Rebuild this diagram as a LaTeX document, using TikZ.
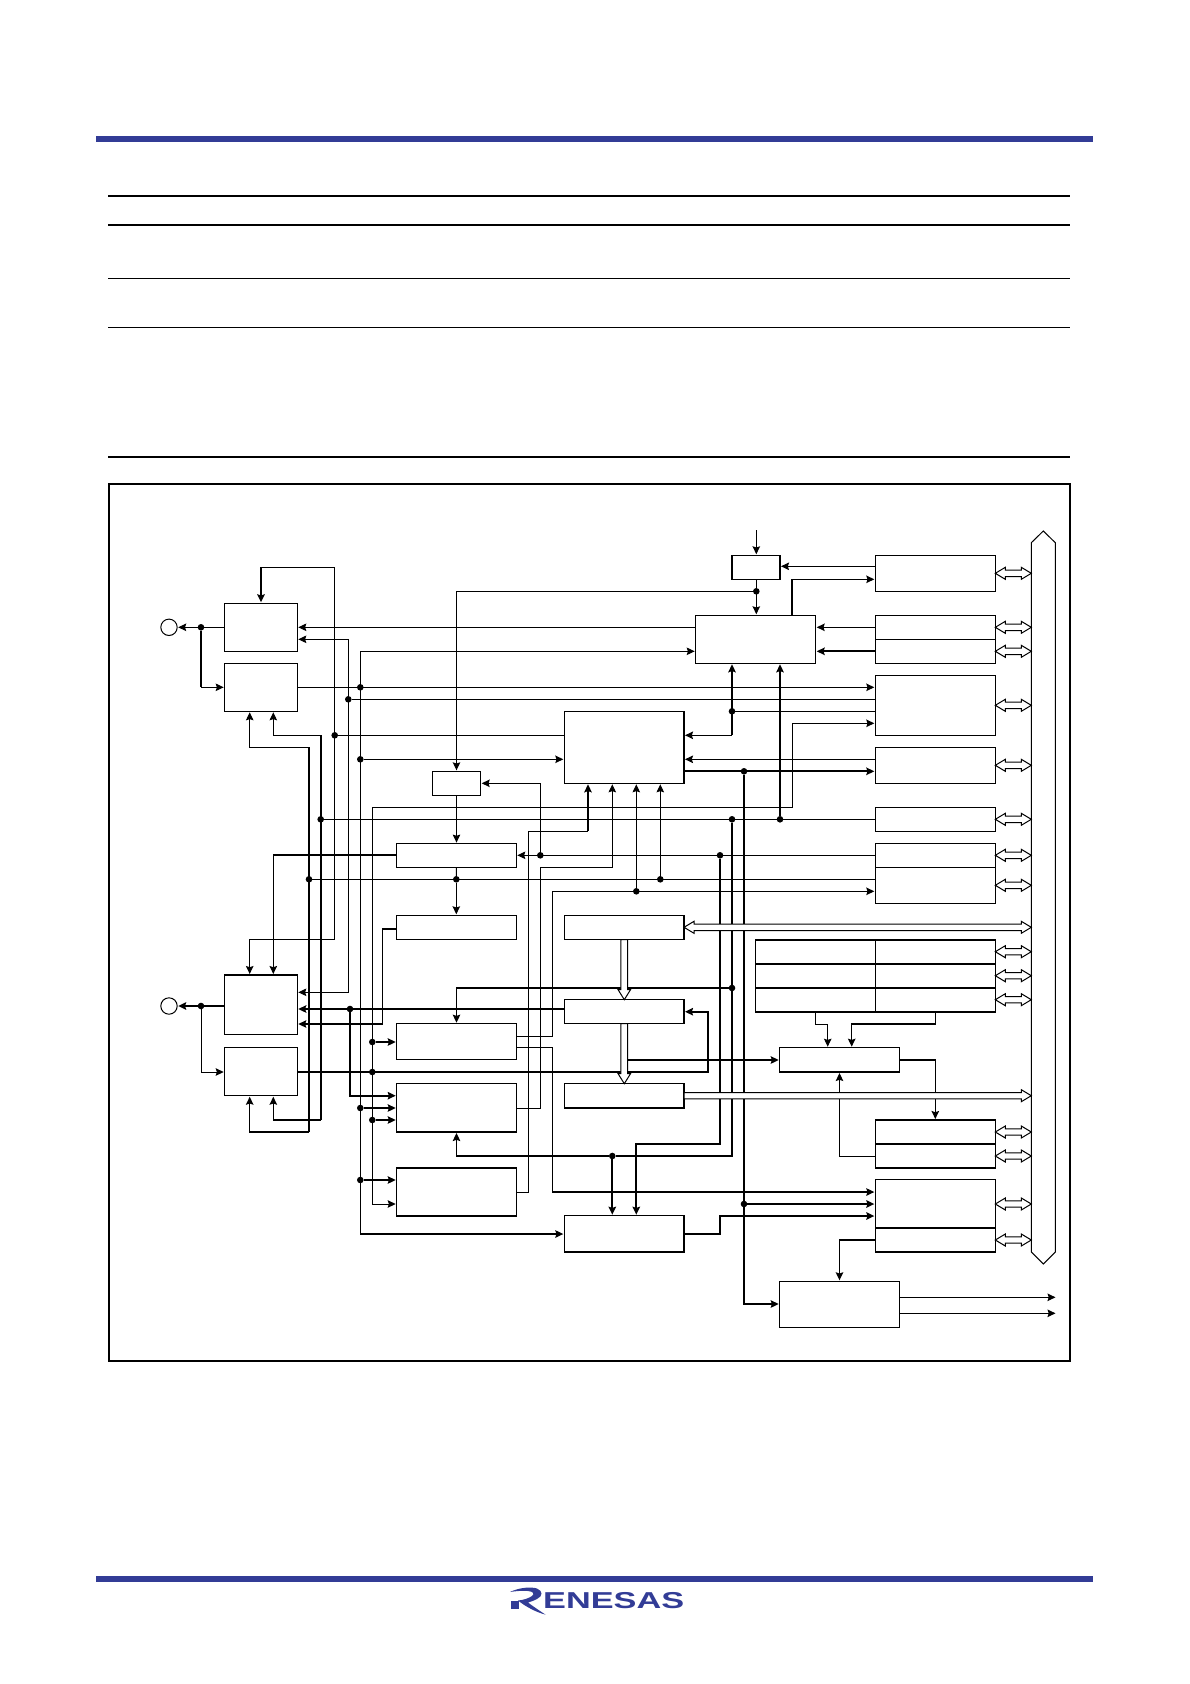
\documentclass[tikz,border=0pt]{standalone}
\usepackage{fontspec}
\usepackage{graphicx}
\setmainfont{Liberation Sans}
\usetikzlibrary{arrows.meta,calc}
\definecolor{renesas}{RGB}{50,60,150}
\tikzset{
  bx/.style={draw=black,fill=white,line width=1.15pt,inner sep=0pt,outer sep=0pt},
  bxt/.style={bx,line width=1.45pt},
  jdot/.style={circle,fill=black,draw=none,inner sep=0pt,minimum size=6.6pt,outer sep=0pt},
  ln/.style={line width=1pt,line join=miter},
  lnm/.style={line width=1.3pt},
  lnb/.style={line width=1.8pt},
  arr/.style={-{Stealth[length=8pt,width=7.5pt,inset=1.2pt]},shorten >=1pt},
  arrboth/.style={{Stealth[length=8pt,width=7.5pt,inset=1.2pt]}-{Stealth[length=8pt,width=7.5pt,inset=1.2pt]},shorten >=1pt,shorten <=1pt},
  hol/.style={draw=black,fill=white,line width=1pt,line join=miter},
}
\newcommand\Bx[6][bx]{\node[#1,minimum width={(#5-#3)*1pt},minimum height={(#6-#4)*1pt}] (#2) at ({(#3+#5)/2},{(#4+#6)/2}) {};}
\newcommand\Jd[3]{\node[jdot] (#1) at (#2,#3) {};}
\newcommand\HDbl[3]{\draw[hol] (#1 |- 0,#3) -- ++(10,-6) -- ++(0,2.8) -- ($(#2 |- 0,#3)+(-10,-3.2)$) -- ++(0,-2.8) -- (#2 |- 0,#3) -- ++(-10,6) -- ++(0,-2.8) -- ($(#1 |- 0,#3)+(10,3.2)$) -- ++(0,2.8) -- cycle;}
\newcommand\HRight[3]{\draw[hol] ($(#1 |- 0,#3)+(0,-3.2)$) -- ($(#2 |- 0,#3)+(-10,-3.2)$) -- ++(0,-2.8) -- (#2 |- 0,#3) -- ++(-10,6) -- ++(0,-2.8) -- ($(#1 |- 0,#3)+(0,3.2)$) -- cycle;}
\newcommand\HDown[3]{\draw[hol] ($(#3,0 |- #1)+(-3.4,0)$) -- ($(#3,0 |- #2)+(-3.4,-10)$) -- ++(-2.8,0) -- (#3,0 |- #2) -- ++(6.2,-10) -- ++(-2.8,0) -- ($(#3,0 |- #1)+(3.4,0)$) -- cycle;}
\begin{document}
\begin{tikzpicture}[x=1pt,y=-1pt]
\useasboundingbox (0,0) rectangle (1190,1684);
% page furniture
\fill[renesas] (96.3,136.3) rectangle (1093,142.3);
\fill[renesas] (96.3,1576) rectangle (1093,1582);
\draw[line width=1.8pt] (108,196.2) -- (1070,196.2);
\draw[line width=1.8pt] (108,225.2) -- (1070,225.2);
\draw[line width=1.1pt] (108,278.6) -- (1070,278.6);
\draw[line width=1.1pt] (108,327.6) -- (1070,327.6);
\draw[line width=1.8pt] (108,456.7) -- (1070,456.7);
\node[draw=black,line width=1.8pt,fill=white,minimum width=961pt,minimum height=876.7pt,inner sep=0pt,outer sep=0pt] (frame) at (589.5,922.4) {};
% logo
\fill[renesas] (511,1601) rectangle (519,1609);
\fill[renesas] (510,1592) .. controls (519,1587.5) and (531,1586.5) .. (537,1588.5) .. controls (543,1591) and (543,1596) .. (537,1599) .. controls (533,1601) and (530,1602) .. (528,1602.5) .. controls (534,1607) and (540,1611) .. (545.5,1614.6) .. controls (537,1612.5) and (526,1607) .. (518,1600.5) .. controls (524,1600) and (529,1598) .. (532,1596) .. controls (535,1593.5) and (533,1591.5) .. (528,1591) .. controls (522,1590.5) and (516,1591) .. (510,1592) -- cycle;
\node[anchor=west,inner sep=0pt,text=renesas] (logotext) at (543,1601) {\scalebox{1.49}[1]{\fontsize{23}{23}\selectfont\bfseries ENESAS}};
% bus
\draw[hol] (1031.3,542.7) -- (1043.3,531) -- (1055.3,542.7) -- (1055.3,1252) -- (1043.3,1264) -- (1031.3,1252) -- cycle;
\coordinate (BusL) at (1031.3,890);
% boxes
\Bx[bxt]{A}{224.7}{603.3}{297.3}{651.3}
\Bx[bxt]{B}{224.7}{663.3}{297.3}{711.3}
\Bx{C}{224.7}{975}{297.3}{1034.3}
\Bx[bxt]{D}{224.7}{1047.7}{297.3}{1095.7}
\Bx[bxt]{E}{732}{555.3}{780}{579.3}
\Bx{F}{695.7}{615.3}{815.7}{663.3}
\Bx{G}{875.3}{555.3}{995.3}{591.3}
\Bx{H1}{875.3}{615.3}{995.3}{639.3}
\Bx{H2}{875.3}{639.3}{995.3}{663.3}
\Bx{I}{875.3}{675.3}{995.3}{735.3}
\Bx{J}{875.3}{747.3}{995.3}{783.3}
\Bx{K}{875.3}{807.3}{995.3}{831.3}
\Bx[bxt]{L1}{875.3}{843.6}{995.3}{867.6}
\Bx[bxt]{L2}{875.3}{867.6}{995.3}{903.6}
\Bx{M}{564.3}{711.3}{684}{783.3}
\Bx{N}{432.3}{771.3}{480.7}{795.3}
\Bx[bxt]{O}{396.7}{843.6}{516.3}{867.6}
\Bx[bxt]{P}{396.7}{915.3}{516.3}{939.7}
\Bx[bxt]{Q}{564.3}{915.3}{684}{939.7}
\Bx[bxt]{QQ}{564.3}{999.7}{684}{1023.7}
\Bx[bxt]{R}{564.3}{1083.7}{684}{1108}
\Bx[bxt]{S}{396.7}{1023.7}{516.3}{1059.7}
\Bx[bxt]{U}{396.7}{1083.7}{516.3}{1132}
\Bx[bxt]{V}{396.7}{1168}{516.3}{1216}
\Bx[bxt]{W}{564.3}{1215.7}{684}{1252}
\Bx[bxt]{X}{755.7}{940}{995.3}{1012}
\draw[line width=1.45pt] (X.west |- 0,964) -- (X.east |- 0,964);
\draw[line width=1.45pt] (X.west |- 0,988) -- (X.east |- 0,988);
\draw[line width=1pt] (875.3,940 |- X.north) -- (875.3,940 |- X.south);
\Bx[bxt]{Y}{779.7}{1047.7}{899.3}{1072}
\Bx[bxt]{Z1}{875.3}{1120}{995.3}{1144}
\Bx[bxt]{Z2}{875.3}{1144}{995.3}{1168}
\Bx[bxt]{AA1}{875.3}{1179.7}{995.3}{1228}
\Bx[bxt]{AA2}{875.3}{1228}{995.3}{1252}
\Bx{AB}{779.7}{1281.3}{899.3}{1327.3}
\node[circle,draw=black,fill=white,line width=1pt,minimum size=16.4pt,inner sep=0pt,outer sep=0pt] (PA) at (169,627.3) {};
\node[circle,draw=black,fill=white,line width=1pt,minimum size=16.4pt,inner sep=0pt,outer sep=0pt] (PC) at (169,1006) {};
\coordinate (clkin) at (756.3,530);
\coordinate (busTap) at (628,1060);
\coordinate (ab1) at (1056.5,1297.3);
\coordinate (ab2) at (1056.5,1313.3);
% junctions
\Jd{dA}{201}{627.3}
\Jd{dC}{201}{1006}
\Jd{dClk}{756.3}{591.3}
\Jd{dBa}{360.3}{687.3}
\Jd{dBb}{360.3}{759.3}
\Jd{dBc}{360.3}{1108}
\Jd{dBd}{360.3}{1180}
\Jd{dEa}{348.3}{699.3}
\Jd{dFa}{732}{711.3}
\Jd{dFb}{732}{819.3}
\Jd{dFc}{732}{988}
\Jd{dMa}{334.7}{735.3}
\Jd{dMb}{744}{771.3}
\Jd{dMc}{744}{1204}
\Jd{dNa}{372.3}{1042}
\Jd{dNb}{372.3}{1072}
\Jd{dNc}{372.3}{1120}
\Jd{dRa}{320.7}{819.3}
\Jd{dRb}{780}{819.3}
\Jd{dTa}{612.3}{1156}
\Jd{dSa}{720}{855.3}
\Jd{dSb}{540.3}{855.3}
\Jd{dWa}{309}{879.3}
\Jd{dWb}{456.3}{879.3}
\Jd{dWc}{660.3}{879.3}
\Jd{dWd}{636.3}{891.3}
\Jd{dQa}{350}{1009}
% top right
\draw[ln,arr] (clkin) -- (clkin |- E.north);
\draw[ln,arr] (G.west |- 0,566.3) -- (E.east |- 0,566.3);
\draw[ln,arr] (dClk |- E.south) -- (dClk |- F.north);
\draw[ln,arr] (dClk) -| (N.north);
\draw[lnm] (792,579.3 |- F.north) -- (792,579.3);
\draw[ln,arr] (792,579.3) -- (G.west |- 0,579.3);
\draw[ln,arr] (H1.west |- 0,627.3) -- (F.east |- 0,627.3);
\draw[lnb,arr] (H2.west |- 0,651.3) -- (F.east |- 0,651.3);
\draw[ln,arr] (F.west |- 0,627.3) -- (A.east |- 0,627.3);
\draw[ln,arr] (360.3,1234) -- (360.3,651.3) -- (F.west |- 0,651.3);
\draw[lnm,arr] (360.3,1234) -- (W.west |- 0,1234);
\draw[ln,arr] (B.east |- 0,687.3) -- (I.west |- 0,687.3);
\draw[ln,arrboth] (A.east |- 0,639.3) -- (348.3,639.3) -- (348.3,992.3) -- (C.east |- 0,992.3);
\draw[ln] (dEa) -- (I.west |- dEa);
\draw[ln] (I.west |- dFa) -- (dFa);
\draw[lnb,arr] (732,735.3) -- (dFa |- F.south);
\draw[lnm,arr] (732,735.3) -- (M.east |- 0,735.3);
\draw[ln] (dMa) -- (M.west |- dMa);
\draw[lnb,arr] (261,567.3) -- (A.north);
\draw[ln] (261,567.3) -- (334.7,567.3) -- (334.7,939.3);
\draw[lnm] (334.7,939.3) -- (249.7,939.3);
\draw[ln,arr] (249.7,939.3) -- (249.7,939.3 |- C.north);
\draw[ln,arr] (dBb) -- (M.west |- dBb);
\draw[ln,arr] (I.west |- 0,759.3) -- (M.east |- 0,759.3);
\draw[lnb,arr] (M.east |- dMb) -- (I.west |- dMb);
\draw[lnb,arr] (dMb) |- (AB.west |- 0,1304);
\draw[lnb,arr] (dMc) -- (AA1.west |- dMc);
\draw[ln,arrboth] (I.west |- 0,723.3) -- (792,723.3) -- (792,807.3) -- (372.3,807.3) -- (372.3,1204) -- (V.west |- 0,1204);
\draw[lnb,arr] (dNa) -- (S.west |- dNa);
\draw[lnb,arr] (dNc) -- (U.west |- dNc);
\draw[lnb,arr] (dBc) -- (U.west |- dBc);
\draw[lnb,arr] (dBd) -- (V.west |- dBd);
\draw[ln] (dRa) -- (J.west |- dRa);
\draw[lnb,arr] (dRb) -- (dRb |- F.south);
% loops round the left-hand blocks
\draw[ln,arr] (320.7,735.3) -- (273.3,735.3) -- (273.3,663.3 |- B.south);
\draw[lnb] (320.7,735.3) -- (320.7,1120);
\draw[lnm,arr] (320.7,1120) -- (273.3,1120) -- (273.3,1120 |- D.south);
\draw[ln,arr] (309,747.3) -- (249.7,747.3) -- (249.7,663.3 |- B.south);
\draw[lnb] (309,747.3) -- (309,1132);
\draw[lnm,arr] (309,1132) -- (249.7,1132) -- (249.7,1132 |- D.south);
\draw[lnb] (dFb) |- (dTa);
\draw[lnb,arr] (dTa) -- (dTa |- W.north);
\draw[lnm,arr] (dTa) -| (U.south);
\draw[lnb,arr] (dFc) -| (S.north);
\draw[ln,arr] (K.west |- dSa) -- (O.east |- dSa);
\draw[ln,arr] (dSb) |- (N.east |- 0,783.3);
\draw[lnb,arr] (dSa) -- (720,1144) -- (636.3,1144) -- (636.3,1144 |- W.north);
\draw[ln] (V.east |- 0,1192) -- (528.3,1192) -- (528.3,831.3) -- (588,831.3);
\draw[lnb,arr] (588,831.3) -- (588,831.3 |- M.south);
\draw[ln,arr] (U.east |- 0,1108) -- (540.3,1108) -- (540.3,867.3) -- (612.3,867.3) -- (612.3,867.3 |- M.south);
\draw[ln] (dWa) -- (L2.west |- dWa);
\draw[ln,arr] (dWc) -- (dWc |- M.south);
\draw[ln,arr] (dWd) -- (dWd |- M.south);
\draw[ln,arr] (N.south) -- (N.south |- O.north);
\draw[ln] (O.south) -- (dWb);
\draw[ln,arr] (dWb) -- (dWb |- P.north);
\draw[ln,arr] (S.east |- 0,1036) -- (552.3,1036) -- (552.3,891.3) -- (L2.west |- 0,891.3);
\draw[lnm,arr] (S.east |- 0,1047.7) -- (552.3,1047.7) -- (552.3,1192) -- (AA1.west |- 0,1192);
\draw[lnb] (O.west |- 0,855.3) -- (273.3,855.3);
\draw[ln,arr] (273.3,855.3) -- (273.3,855.3 |- C.north);
\draw[lnm,arr] (P.west |- 0,929) -- (382.3,929) -- (382.3,1024) -- (C.east |- 0,1024);
\draw[lnb,arr] (QQ.west |- dQa) -- (C.east |- dQa);
\draw[lnb,arr] (dQa) |- (U.west |- 0,1095.7);
\draw[lnb,arr] (D.east |- 0,1072) -- (708,1072) -- (708,1011.7) -- (QQ.east |- 0,1011.7);
\draw[lnb,arr] (busTap) -- (Y.west |- busTap);
\draw[ln,arr] (815.7,1012) -- (815.7,1024) -- (827.7,1024) -- (827.7,1024 |- Y.north);
\draw[lnm,arr] (935.3,1012) -- (935.3,1024) -- (851.7,1024) -- (851.7,1024 |- Y.north);
\draw[lnm,arr] (Y.east |- 0,1060) -- (935.3,1060) -- (935.3,1060 |- Z1.north);
\draw[ln,arr] (Z2.west |- 0,1156) -- (839.5,1156) -- (839.5,1156 |- Y.south);
\draw[lnm,arr] (AA2.west |- 0,1240) -- (839.5,1240) -- (839.5,1240 |- AB.north);
\draw[lnb,arr] (W.east |- 0,1234) -- (720,1234) -- (720,1216) -- (AA1.west |- 0,1216);
\draw[ln,arr] (AB.east |- ab1) -- (ab1);
\draw[ln,arr] (AB.east |- ab2) -- (ab2);
% left
\draw[ln,arr] (A.west |- dA) -- (PA);
\draw[lnb] (dA) -- (201,687.3);
\draw[ln,arr] (201,687.3) -- (B.west |- 0,687.3);
\draw[lnb,arr] (C.west |- dC) -- (PC);
\draw[ln,arr] (dC) |- (D.west |- 0,1072);
% fat buses
\HDbl{G.east}{BusL}{573.3}
\HDbl{H1.east}{BusL}{627.3}
\HDbl{H2.east}{BusL}{651.3}
\HDbl{I.east}{BusL}{705.3}
\HDbl{J.east}{BusL}{765.3}
\HDbl{K.east}{BusL}{819.3}
\HDbl{L1.east}{BusL}{855.3}
\HDbl{L2.east}{BusL}{885.3}
\HDbl{Q.east}{BusL}{927.3}
\HDbl{X.east}{BusL}{951.7}
\HDbl{X.east}{BusL}{975.7}
\HDbl{X.east}{BusL}{999.7}
\HDbl{Z1.east}{BusL}{1132}
\HDbl{Z2.east}{BusL}{1156}
\HDbl{AA1.east}{BusL}{1204}
\HDbl{AA2.east}{BusL}{1240}
\HRight{R.east}{BusL}{1095.7}
\HDown{Q.south}{QQ.north}{624.3}
\HDown{QQ.south}{R.north}{624.3}
\end{tikzpicture}
\end{document}
